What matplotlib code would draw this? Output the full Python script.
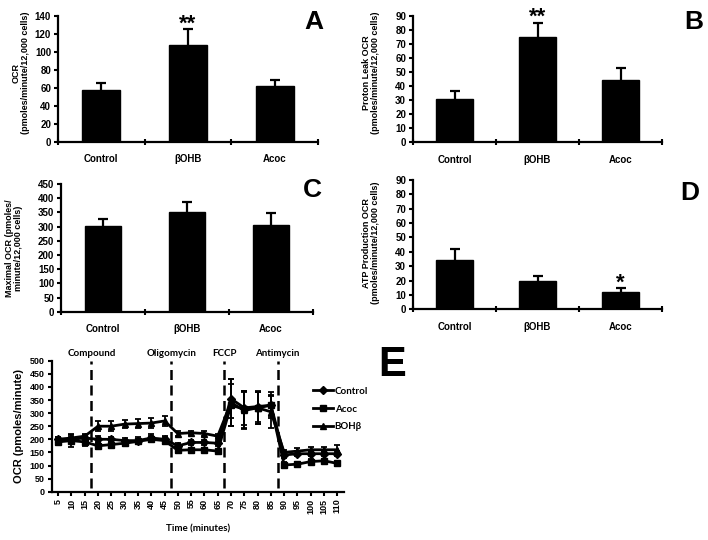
import numpy as np
import matplotlib
matplotlib.use('Agg')
import matplotlib.pyplot as plt
from matplotlib.lines import Line2D

plt.rcParams['font.family'] = ['Liberation Sans', 'DejaVu Sans']
plt.rcParams['font.weight'] = 'bold'

W, H = 708, 540

groups = ['Control', 'βOHB', 'Acoc']

a_vals = [57.5, 108, 62]
a_err = [8, 17, 7]
b_vals = [30.5, 75, 44]
b_err = [6, 10, 9]
c_vals = [302, 351, 305]
c_err = [26, 34, 43]
d_vals = [34, 19.5, 12]
d_err = [8, 4, 2.5]

times = [5, 10, 15, 20, 25, 30, 35, 40, 45, 50, 55, 60, 65, 70, 75, 80, 85, 90, 95, 100, 105, 110]
control = [200, 200, 205, 200, 200, 195, 195, 205, 200, 175, 188, 188, 185, 355, 320, 325, 330, 140, 145, 145, 145, 145]
control_err = [8, 10, 10, 12, 10, 10, 12, 15, 12, 10, 10, 10, 10, 75, 65, 60, 50, 12, 10, 10, 10, 10]
acoc = [190, 195, 190, 175, 180, 185, 192, 200, 195, 158, 160, 160, 155, 330, 315, 320, 330, 102, 105, 115, 118, 108]
acoc_err = [12, 25, 15, 12, 12, 10, 10, 12, 12, 10, 8, 8, 8, 80, 70, 60, 40, 10, 8, 8, 8, 8]
bohb = [200, 205, 212, 250, 250, 258, 260, 262, 270, 222, 225, 222, 212, 340, 310, 320, 305, 150, 155, 160, 160, 160]
bohb_err = [8, 10, 10, 18, 20, 15, 18, 18, 18, 10, 8, 8, 8, 90, 70, 60, 60, 10, 10, 10, 10, 18]

injections = ['Compound', 'Oligomycin', 'FCCP', 'Antimycin']
inj_pos = [2.5, 8.5, 12.5, 16.5]


def rect(left, top, right, bottom):
    return [left / W, 1 - bottom / H, (right - left) / W, (bottom - top) / H]


def style_axes(ax):
    for s in ['top', 'right']:
        ax.spines[s].set_visible(False)
    for s in ['left', 'bottom']:
        ax.spines[s].set_linewidth(1.6)


fig = plt.figure(figsize=(W / 100, H / 100), dpi=100)


def bar_panel(box, vals, errs, ymax, ystep, ylabel, lab_xy, letter, letter_xy, star=None):
    ax = fig.add_axes(rect(*box))
    x = np.arange(len(groups)) + 0.5
    ax.bar(x, vals, width=0.44, color='black', edgecolor='black',
           yerr=errs, error_kw=dict(ecolor='black', elinewidth=1.6, capsize=3.5, capthick=1.6))
    ax.set_xlim(0, 3)
    ax.set_ylim(0, ymax)
    ax.set_yticks(np.arange(0, ymax + 1, ystep))
    ax.set_xticks([0, 1, 2, 3])
    ax.set_xticklabels([])
    ax.set_xticks(x, minor=True)
    ax.set_xticklabels(groups, minor=True, fontsize=7, fontweight='bold')
    ax.tick_params(axis='x', which='major', direction='inout', length=4, width=1.5)
    ax.tick_params(axis='x', which='minor', length=0, pad=9)
    ax.tick_params(axis='y', direction='out', length=3, width=1.5, labelsize=7, pad=2)
    style_axes(ax)
    fig.text(lab_xy[0] / W, 1 - lab_xy[1] / H, ylabel, rotation=90, ha='center', va='center',
             fontsize=6.5, fontweight='bold', linespacing=1.05, multialignment='center')
    fig.text(letter_xy[0] / W, 1 - letter_xy[1] / H, letter, ha='center', va='center',
             fontsize=19, fontweight='bold')
    if star is not None:
        ax.text(star[0], star[1], star[2], ha='center', va='baseline', fontsize=16, fontweight='bold')
    return ax


bar_panel((58, 16, 318, 141.7), a_vals, a_err, 140, 20,
          'OCR\n(pmoles/minute/12,000 cells)', (21, 73), 'A', (314, 22), (1.5, 125, '**'))
bar_panel((413, 15.7, 662, 142.3), b_vals, b_err, 90, 10,
          'Proton Leak OCR\n(pmoles/minute/12,000 cells)', (371, 73), 'B', (694, 22), (1.5, 85, '**'))
bar_panel((61, 184, 313, 311.7), c_vals, c_err, 450, 50,
          'Maximal OCR (pmoles/\nminute/12,000 cells)', (14, 248), 'C', (312, 190))
bar_panel((413, 180, 662, 309.3), d_vals, d_err, 90, 10,
          'ATP Production OCR\n(pmoles/minute/12,000 cells)', (371, 243), 'D', (690, 193), (2.5, 14.3, '*'))

# panel E
ax = fig.add_axes(rect(51.5, 360.7, 344, 491.7))
xi = np.arange(len(times))
for vals, errs, mk, ms in [(control, control_err, 'D', 4), (acoc, acoc_err, 's', 5), (bohb, bohb_err, '^', 5)]:
    ax.errorbar(xi, vals, yerr=errs, color='black', lw=2, marker=mk, ms=ms,
                capsize=2.5, elinewidth=1.3, capthick=1.3)
for name, p in zip(injections, inj_pos):
    ax.vlines(p, 15, 500, colors='black', linestyles=(0, (4, 2.2)), lw=1.8)
    ax.text(p, 529, name, ha='center', va='center', fontsize=7, fontweight='bold',
            family=['Lato', 'DejaVu Sans'])
ax.set_xlim(-0.5, 21.5)
ax.set_ylim(0, 500)
ax.set_yticks(np.arange(0, 501, 50))
ax.set_xticks(xi)
ax.set_xticklabels([str(t) for t in times], rotation=90, fontsize=6.5, fontweight='bold')
ax.tick_params(axis='x', direction='out', length=3, width=1.5, pad=2)
ax.tick_params(axis='y', direction='out', length=3, width=1.5, labelsize=6.5, pad=2)
style_axes(ax)
ax.set_ylabel('OCR (pmoles/minute)', fontsize=8, fontweight='bold', labelpad=4)
ax.set_xlabel('Time (minutes)', fontsize=7, fontweight='bold', family=['Lato', 'DejaVu Sans'], labelpad=8)

handles = [Line2D([], [], color='black', lw=2, marker='D', ms=4),
           Line2D([], [], color='black', lw=2, marker='s', ms=5),
           Line2D([], [], color='black', lw=2, marker='^', ms=5)]
fig.legend(handles, ['Control', 'Acoc', 'BOHβ'], loc='upper left', bbox_to_anchor=(308 / W, 1 - 382 / H),
           frameon=False, handlelength=2.1, handletextpad=0.15, labelspacing=0.9, borderpad=0,
           prop=dict(family=['Lato', 'DejaVu Sans'], weight='bold', size=7))
fig.text(392 / W, 1 - 365 / H, 'E', ha='center', va='center', fontsize=30, fontweight='bold')

fig.savefig('out.png', dpi=100)
